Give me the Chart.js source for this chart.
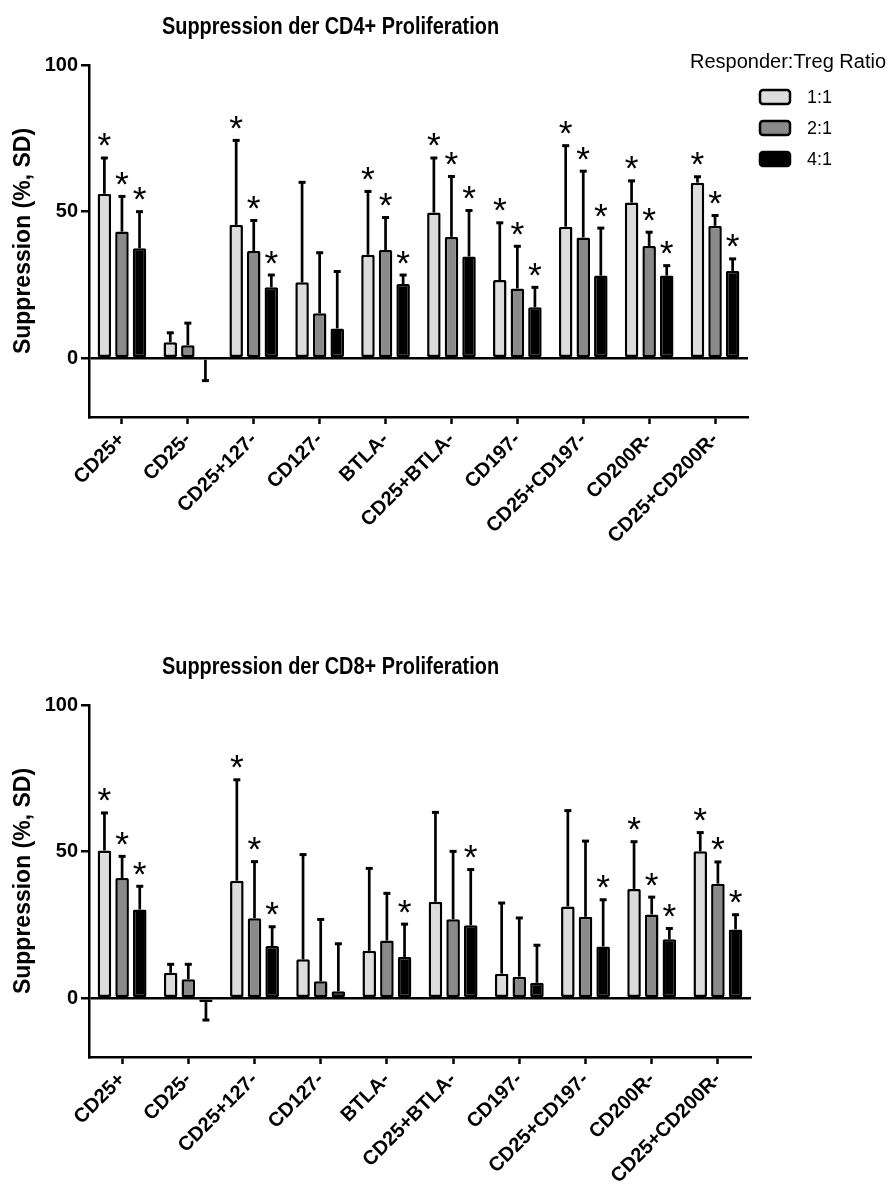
<!DOCTYPE html>
<html>
<head>
<meta charset="utf-8">
<script src="https://cdn.jsdelivr.net/npm/chart.js@4.4.0/dist/chart.umd.min.js"></script>
<style>
body{margin:0;background:#fff;width:889px;height:1185px;overflow:hidden;position:relative;font-family:"Liberation Sans",Arial,sans-serif}
.title{position:absolute;font-weight:bold;font-size:24px;line-height:28px;white-space:nowrap;transform:scaleX(0.83);transform-origin:0 0;z-index:2}
canvas{position:absolute;left:0}
</style>
</head>
<body>
<div class="title" style="left:162px;top:12px">Suppression der CD4+ Proliferation</div>
<canvas id="cd4" width="889" height="640" style="top:0"></canvas>
<div class="title" style="left:162px;top:652px">Suppression der CD8+ Proliferation</div>
<canvas id="cd8" width="889" height="545" style="top:640px"></canvas>
<script>
const FONT = '"Liberation Sans", Arial, sans-serif'

const categories = ['CD25+','CD25-','CD25+127-','CD127-','BTLA-','CD25+BTLA-','CD197-','CD25+CD197-','CD200R-','CD25+CD200R-']
const ratios = ['1:1','2:1','4:1']
const yTicks = [0,50,100]

// CD4+ suppression, mean and SD
const cd4_1to1 = [56.1, 5.5, 45.5, 25.9, 35.3, 49.7, 26.7, 44.9, 53.1, 59.9]
const cd4_1to1_sd = [12.2, 3.2, 28.8, 34.1, 21.6, 18.6, 19.5, 27.6, 7.4, 2.0]
const cd4_2to1 = [43.2, 4.5, 36.6, 15.4, 36.9, 41.4, 23.8, 41.2, 38.3, 45.2]
const cd4_2to1_sd = [12.0, 7.5, 10.4, 20.6, 11.1, 20.6, 14.4, 22.6, 4.7, 3.5]
const cd4_4to1 = [37.5, -0.5, 24.2, 10.2, 25.3, 34.7, 17.4, 28.2, 28.2, 29.8]
const cd4_4to1_sd = [12.5, 7.1, 4.2, 19.4, 3.1, 15.7, 6.8, 16.2, 3.4, 4.1]
const cd4_stars_1to1 = [1,0,1,0,1,1,1,1,1,1]
const cd4_stars_2to1 = [1,0,1,0,1,1,1,1,1,1]
const cd4_stars_4to1 = [1,0,1,0,1,1,1,1,1,1]

// CD8+ suppression, mean and SD
const cd8_1to1 = [50.4, 8.7, 40.1, 13.3, 16.2, 32.9, 8.4, 31.3, 37.3, 50.1]
const cd8_1to1_sd = [12.8, 2.9, 34.4, 35.7, 28.1, 30.5, 24.1, 32.7, 16.1, 6.4]
const cd8_2to1 = [41.0, 6.5, 27.3, 5.8, 19.7, 27.0, 7.4, 27.8, 28.6, 39.1]
const cd8_2to1_sd = [7.4, 5.1, 19.3, 21.1, 16.1, 23.1, 20.0, 25.8, 5.9, 7.4]
const cd8_4to1 = [30.3, -1.3, 17.8, 2.4, 14.1, 24.9, 5.3, 17.7, 20.1, 23.5]
const cd8_4to1_sd = [7.9, 6.1, 6.6, 16.2, 11.2, 19.0, 12.8, 15.9, 3.7, 5.0]
const cd8_stars_1to1 = [1,0,1,0,0,0,0,0,1,1]
const cd8_stars_2to1 = [1,0,1,0,0,0,0,0,1,1]
const cd8_stars_4to1 = [1,0,1,0,1,1,0,1,1,1]

const fills = ['#dcdcdc','#8a8a8a','#000000']

// error bars + significance stars
const errorBars = {
  id: 'errorBars',
  afterDatasetsDraw(chart){
    const ctx = chart.ctx, y = chart.scales.y
    ctx.save()
    ctx.font = '30px ' + FONT
    let m = ctx.measureText('*')
    const size = 30 * 13 / (m.actualBoundingBoxAscent + m.actualBoundingBoxDescent)
    ctx.font = size + 'px ' + FONT
    m = ctx.measureText('*')
    chart.data.datasets.forEach((ds, i) => {
      chart.getDatasetMeta(i).data.forEach((bar, j) => {
        const v = ds.data[j], sd = ds.sd[j]
        const end = y.getPixelForValue(v < 0 ? v - sd : v + sd)
        ctx.strokeStyle = '#000'
        ctx.lineWidth = 2.7
        ctx.beginPath(); ctx.moveTo(bar.x, bar.y); ctx.lineTo(bar.x, end); ctx.stroke()
        ctx.lineWidth = 3
        ctx.beginPath(); ctx.moveTo(bar.x - 3.5, end); ctx.lineTo(bar.x + 3.5, end); ctx.stroke()
        if (ds.stars[j]) {
          ctx.fillStyle = '#000'
          ctx.textAlign = 'center'
          ctx.textBaseline = 'alphabetic'
          const cy = end - 18
          ctx.fillText('*', bar.x, cy + (m.actualBoundingBoxAscent - m.actualBoundingBoxDescent) / 2)
        }
      })
    })
    ctx.restore()
  }
}

const ratioLegend = {
  id: 'ratioLegend',
  afterDraw(chart, args, opts){
    if (!opts.show) return
    const ctx = chart.ctx
    ctx.save()
    ctx.fillStyle = '#000'
    ctx.textBaseline = 'middle'
    ctx.textAlign = 'left'
    ctx.font = '20px ' + FONT
    ctx.fillText('Responder:Treg Ratio', 690, 62)
    ctx.font = '18px ' + FONT
    chart.data.datasets.forEach((ds, i) => {
      const cy = 97 + i * 31
      ctx.beginPath()
      ctx.roundRect(760, cy - 7, 30, 14, 3)
      ctx.fillStyle = ds.backgroundColor
      ctx.fill()
      ctx.lineWidth = 2.5
      ctx.strokeStyle = '#000'
      ctx.stroke()
      ctx.fillStyle = '#000'
      ctx.fillText(ds.label, 807, cy + 1)
    })
    ctx.restore()
  }
}

function makeChart(id, means, sds, stars, withLegend, xHeight, rightPad){
  const datasets = means.map((m, i) => ({
    label: ratios[i], data: m, sd: sds[i], stars: stars[i],
    backgroundColor: fills[i], borderColor: '#000', borderWidth: 2.5,
    borderSkipped: false, borderRadius: 1.5,
    categoryPercentage: 0.8, barPercentage: 0.77
  }))
  return new Chart(document.getElementById(id), {
    type: 'bar',
    data: { labels: categories, datasets: datasets },
    options: {
      responsive: false,
      animation: false,
      layout: { padding: { top: 65, right: rightPad, left: 0, bottom: 0 } },
      plugins: { legend: { display: false }, tooltip: { enabled: false }, ratioLegend: { show: withLegend } },
      scales: {
        x: {
          grid: { offset: false, drawOnChartArea: false, tickLength: 7, tickColor: '#000', tickWidth: 2.5 },
          border: { color: '#000', width: 2.5 },
          ticks: { color: '#000', font: { size: 20, weight: 'bold', family: FONT }, maxRotation: 45, minRotation: 45, padding: 4, autoSkip: false },
          afterFit: s => { s.height = xHeight }
        },
        y: {
          min: -20, max: 100,
          afterBuildTicks: s => { s.ticks = yTicks.map(v => ({ value: v })) },
          grid: { color: c => (c.tick && c.tick.value === 0) ? '#000' : 'rgba(0,0,0,0)', lineWidth: 2.5, tickColor: '#000', tickLength: 8, tickWidth: 2.5 },
          border: { color: '#000', width: 2.5 },
          ticks: { color: '#000', font: { size: 20, weight: 'bold', family: FONT }, padding: 3 },
          title: { display: true, text: 'Suppression (%, SD)', color: '#000', font: { size: 23, weight: 'bold', family: FONT }, padding: { top: 10, bottom: 0 } },
          afterFit: s => { s.width = 89 }
        }
      }
    },
    plugins: [errorBars, ratioLegend]
  })
}

makeChart('cd4', [cd4_1to1, cd4_2to1, cd4_4to1], [cd4_1to1_sd, cd4_2to1_sd, cd4_4to1_sd],
  [cd4_stars_1to1, cd4_stars_2to1, cd4_stars_4to1], true, 223, 141)
makeChart('cd8', [cd8_1to1, cd8_2to1, cd8_4to1], [cd8_1to1_sd, cd8_2to1_sd, cd8_4to1_sd],
  [cd8_stars_1to1, cd8_stars_2to1, cd8_stars_4to1], false, 128, 138)
</script>
</body>
</html>
